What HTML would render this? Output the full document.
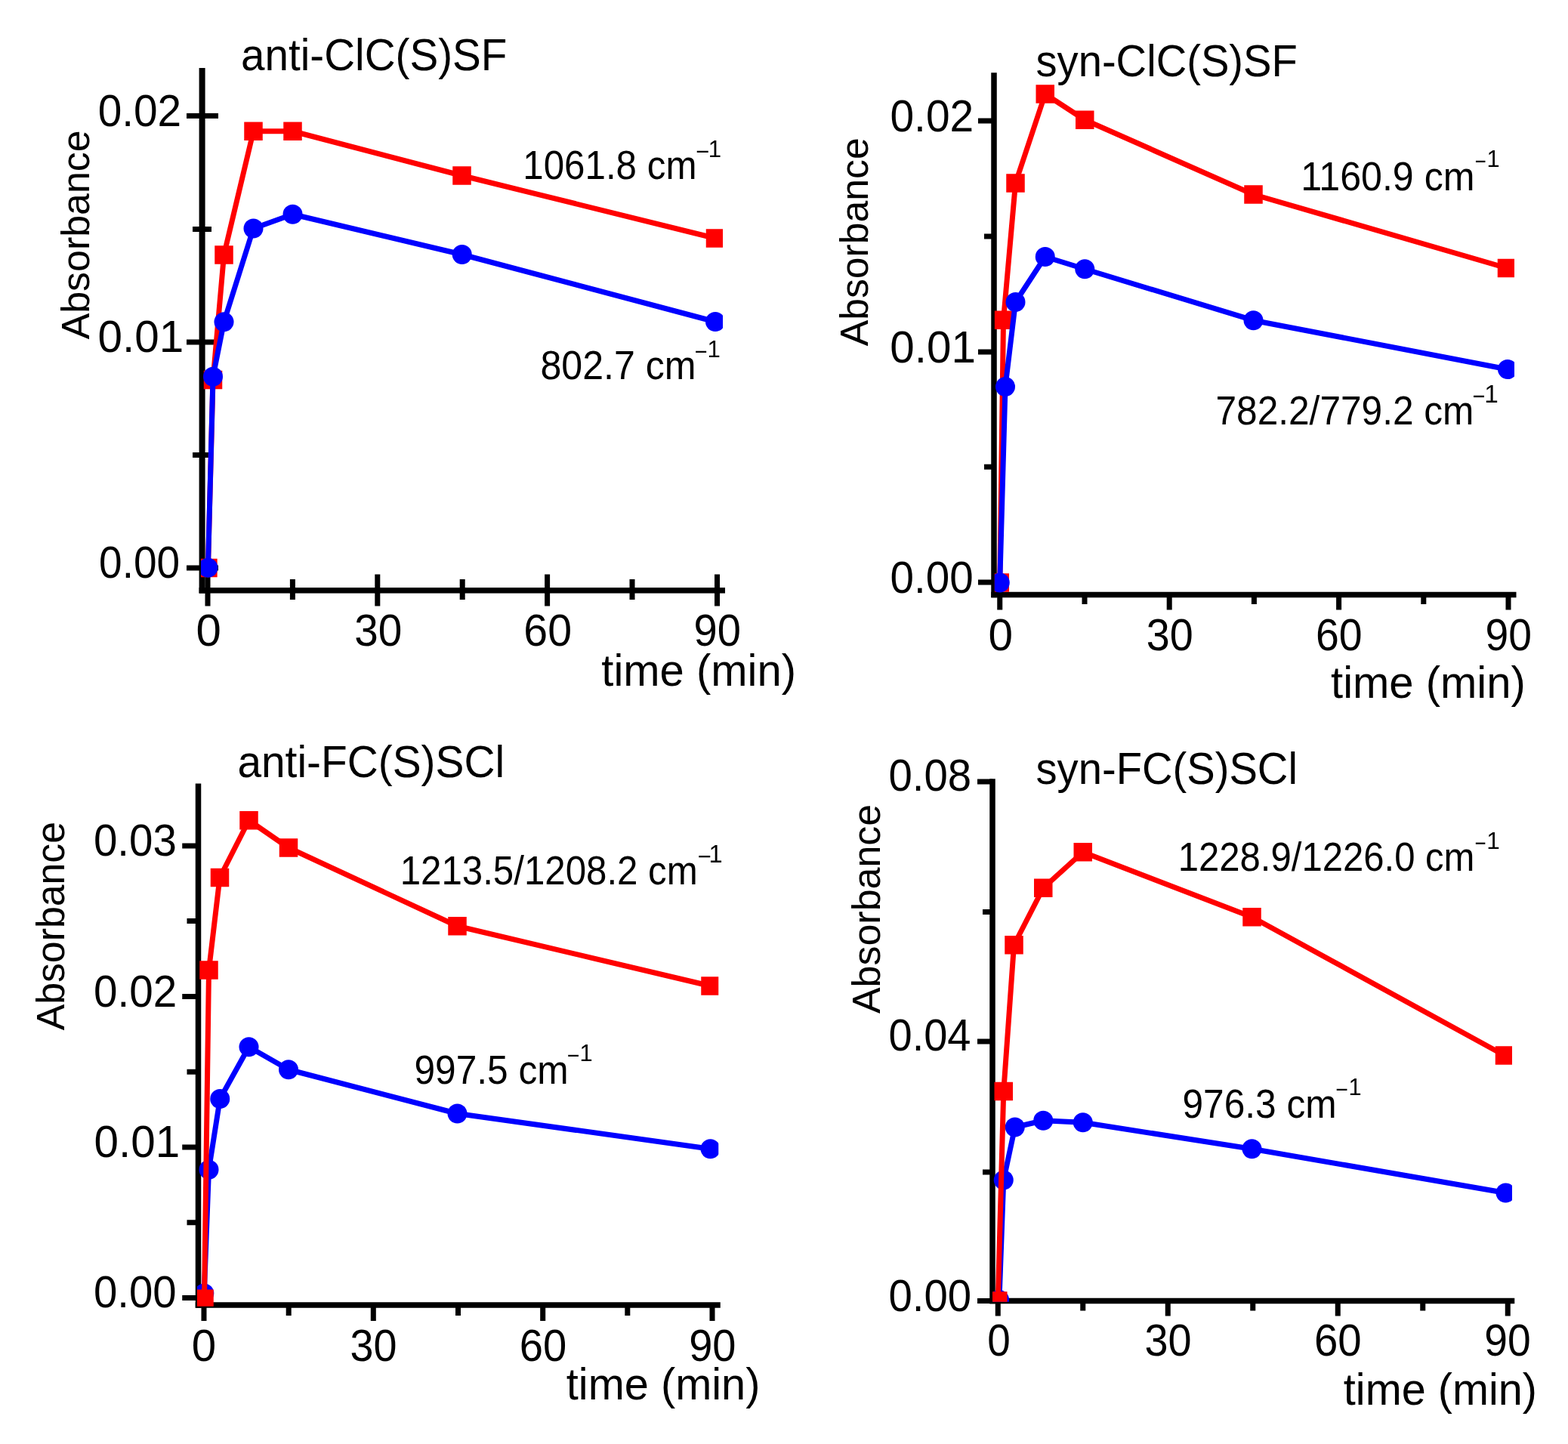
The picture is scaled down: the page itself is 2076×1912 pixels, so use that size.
<!DOCTYPE html>
<html><head><meta charset="utf-8"><title>Absorbance vs time</title>
<style>html,body{margin:0;padding:0;background:#fff;overflow:hidden;}svg{display:block;}text{font-family:"Liberation Sans", Arial, sans-serif;}</style>
</head><body>
<svg width="2076" height="1912" viewBox="0 0 2076 1912">
<rect width="2076" height="1912" fill="#fff"/>
<defs>
<clipPath id="clipA"><rect x="266" y="0" width="691" height="783.3"/></clipPath>
<clipPath id="clipB"><rect x="1316.8" y="0" width="688.2" height="789"/></clipPath>
<clipPath id="clipC"><rect x="261" y="960" width="690.25" height="769.8"/></clipPath>
<clipPath id="clipD"><rect x="1314" y="960" width="688" height="763.7"/></clipPath>
</defs>
<rect x="263.60" y="90.00" width="8.00" height="695.55" fill="#000"/>
<rect x="263.60" y="778.05" width="696.40" height="7.50" fill="#000"/>
<rect x="247.00" y="748.50" width="42.00" height="7.00" fill="#000"/>
<rect x="247.00" y="449.50" width="42.00" height="7.00" fill="#000"/>
<rect x="247.00" y="149.90" width="42.00" height="7.00" fill="#000"/>
<rect x="255.00" y="599.00" width="25.00" height="7.00" fill="#000"/>
<rect x="255.00" y="300.00" width="25.00" height="7.00" fill="#000"/>
<rect x="271.50" y="760.50" width="7.00" height="42.00" fill="#000"/>
<rect x="496.30" y="760.50" width="7.00" height="42.00" fill="#000"/>
<rect x="721.10" y="760.50" width="7.00" height="42.00" fill="#000"/>
<rect x="946.00" y="760.50" width="7.00" height="42.00" fill="#000"/>
<rect x="383.90" y="767.00" width="7.00" height="27.00" fill="#000"/>
<rect x="608.70" y="767.00" width="7.00" height="27.00" fill="#000"/>
<rect x="833.50" y="767.00" width="7.00" height="27.00" fill="#000"/>
<g clip-path="url(#clipA)">
<polyline points="275.4,752 282,503 296.5,337.5 335.5,173.75 387.5,173.75 611.5,232.5 947,315.5" fill="none" stroke="#ff0000" stroke-width="7" stroke-linejoin="round"/>
<rect x="263.15" y="739.75" width="24.5" height="24.5" fill="#ff0000"/>
<rect x="269.75" y="490.75" width="24.5" height="24.5" fill="#ff0000"/>
<rect x="284.25" y="325.25" width="24.5" height="24.5" fill="#ff0000"/>
<rect x="323.25" y="161.50" width="24.5" height="24.5" fill="#ff0000"/>
<rect x="375.25" y="161.50" width="24.5" height="24.5" fill="#ff0000"/>
<rect x="599.25" y="220.25" width="24.5" height="24.5" fill="#ff0000"/>
<rect x="934.75" y="303.25" width="24.5" height="24.5" fill="#ff0000"/>
</g>
<g clip-path="url(#clipA)">
<polyline points="275.4,751.8 282,498.75 296.5,426.25 335.5,302.5 387.5,283.75 611.75,337 947,426" fill="none" stroke="#0000ff" stroke-width="7" stroke-linejoin="round"/>
<circle cx="275.4" cy="751.8" r="13.0" fill="#0000ff"/>
<circle cx="282" cy="498.75" r="13.0" fill="#0000ff"/>
<circle cx="296.5" cy="426.25" r="13.0" fill="#0000ff"/>
<circle cx="335.5" cy="302.5" r="13.0" fill="#0000ff"/>
<circle cx="387.5" cy="283.75" r="13.0" fill="#0000ff"/>
<circle cx="611.75" cy="337" r="13.0" fill="#0000ff"/>
<circle cx="947" cy="426" r="13.0" fill="#0000ff"/>
</g>
<text transform="matrix(0.56626,0,0,0.59300,319.05,92.87)" font-size="100" fill="#000">anti-ClC(S)SF</text>
<text transform="matrix(0,-0.51909,0.52000,0,118.29,449.36)" font-size="100">Absorbance</text>
<text transform="matrix(0.56792,0,0,0.59300,129.68,167.08)" font-size="100" fill="#000">0.02</text>
<text transform="matrix(0.58412,0,0,0.59300,129.61,466.08)" font-size="100" fill="#000">0.01</text>
<text transform="matrix(0.55013,0,0,0.59300,131.10,765.16)" font-size="100" fill="#000">0.00</text>
<text transform="matrix(0.60000,0,0,0.59300,259.50,855.01)" font-size="100" fill="#000">0</text>
<text transform="matrix(0.56715,0,0,0.59300,469.23,855.01)" font-size="100" fill="#000">30</text>
<text transform="matrix(0.57268,0,0,0.59300,693.34,855.01)" font-size="100" fill="#000">60</text>
<text transform="matrix(0.56117,0,0,0.59300,918.47,855.01)" font-size="100" fill="#000">90</text>
<text transform="matrix(0.57984,0,0,0.59300,796.33,907.62)" font-size="100" fill="#000">time (min)</text>
<text transform="matrix(0.49312,0,0,0.53700,692.22,237.28)" font-size="100" fill="#000">1061.8 cm</text>
<text transform="matrix(0.30928,0,0,0.31159,920.95,211.19)" font-size="100">−</text>
<text transform="matrix(0.31159,0,0,0.31159,937.79,207.50)" font-size="100">1</text>
<text transform="matrix(0.50087,0,0,0.53700,715.45,501.90)" font-size="100" fill="#000">802.7 cm</text>
<text transform="matrix(0.28866,0,0,0.31159,919.56,475.94)" font-size="100">−</text>
<text transform="matrix(0.31159,0,0,0.31159,936.54,472.50)" font-size="100">1</text>
<rect x="1312.25" y="96.25" width="7.50" height="695.00" fill="#000"/>
<rect x="1312.25" y="783.75" width="695.25" height="7.50" fill="#000"/>
<rect x="1295.00" y="767.50" width="21.00" height="7.00" fill="#000"/>
<rect x="1295.00" y="462.50" width="21.00" height="7.00" fill="#000"/>
<rect x="1295.00" y="156.50" width="21.00" height="7.00" fill="#000"/>
<rect x="1303.00" y="614.70" width="13.00" height="7.00" fill="#000"/>
<rect x="1303.00" y="309.50" width="13.00" height="7.00" fill="#000"/>
<rect x="1320.25" y="787.50" width="7.00" height="20.00" fill="#000"/>
<rect x="1544.70" y="787.50" width="7.00" height="20.00" fill="#000"/>
<rect x="1769.10" y="787.50" width="7.00" height="20.00" fill="#000"/>
<rect x="1993.50" y="787.50" width="7.00" height="20.00" fill="#000"/>
<rect x="1432.50" y="787.50" width="7.00" height="12.50" fill="#000"/>
<rect x="1656.90" y="787.50" width="7.00" height="12.50" fill="#000"/>
<rect x="1881.30" y="787.50" width="7.00" height="12.50" fill="#000"/>
<g clip-path="url(#clipB)">
<polyline points="1323.75,771.5 1328.5,423.75 1344.5,242.5 1383.75,124.5 1436.25,158.75 1659.5,257.5 1995,355" fill="none" stroke="#ff0000" stroke-width="7" stroke-linejoin="round"/>
<rect x="1311.50" y="759.25" width="24.5" height="24.5" fill="#ff0000"/>
<rect x="1316.25" y="411.50" width="24.5" height="24.5" fill="#ff0000"/>
<rect x="1332.25" y="230.25" width="24.5" height="24.5" fill="#ff0000"/>
<rect x="1371.50" y="112.25" width="24.5" height="24.5" fill="#ff0000"/>
<rect x="1424.00" y="146.50" width="24.5" height="24.5" fill="#ff0000"/>
<rect x="1647.25" y="245.25" width="24.5" height="24.5" fill="#ff0000"/>
<rect x="1982.75" y="342.75" width="24.5" height="24.5" fill="#ff0000"/>
</g>
<g clip-path="url(#clipB)">
<polyline points="1323.75,771.5 1331,512 1344.5,400 1383.75,340 1436.25,356.25 1659.5,424.2 1996,489" fill="none" stroke="#0000ff" stroke-width="7" stroke-linejoin="round"/>
<circle cx="1323.75" cy="771.5" r="13.0" fill="#0000ff"/>
<circle cx="1331" cy="512" r="13.0" fill="#0000ff"/>
<circle cx="1344.5" cy="400" r="13.0" fill="#0000ff"/>
<circle cx="1383.75" cy="340" r="13.0" fill="#0000ff"/>
<circle cx="1436.25" cy="356.25" r="13.0" fill="#0000ff"/>
<circle cx="1659.5" cy="424.2" r="13.0" fill="#0000ff"/>
<circle cx="1996" cy="489" r="13.0" fill="#0000ff"/>
</g>
<text transform="matrix(0.56169,0,0,0.59300,1371.51,100.77)" font-size="100" fill="#000">syn-ClC(S)SF</text>
<text transform="matrix(0,-0.51720,0.52000,0,1149.22,458.31)" font-size="100">Absorbance</text>
<text transform="matrix(0.56927,0,0,0.59300,1178.42,173.58)" font-size="100" fill="#000">0.02</text>
<text transform="matrix(0.58412,0,0,0.59300,1178.36,479.83)" font-size="100" fill="#000">0.01</text>
<text transform="matrix(0.56622,0,0,0.59300,1178.44,784.83)" font-size="100" fill="#000">0.00</text>
<text transform="matrix(0.58526,0,0,0.59300,1308.56,860.96)" font-size="100" fill="#000">0</text>
<text transform="matrix(0.55749,0,0,0.59300,1517.77,860.96)" font-size="100" fill="#000">30</text>
<text transform="matrix(0.55415,0,0,0.59300,1741.93,860.96)" font-size="100" fill="#000">60</text>
<text transform="matrix(0.55243,0,0,0.59300,1966.41,860.96)" font-size="100" fill="#000">90</text>
<text transform="matrix(0.58007,0,0,0.59300,1762.03,924.37)" font-size="100" fill="#000">time (min)</text>
<text transform="matrix(0.50147,0,0,0.53700,1722.14,251.65)" font-size="100" fill="#000">1160.9 cm</text>
<text transform="matrix(0.25773,0,0,0.30797,1952.46,224.07)" font-size="100">−</text>
<text transform="matrix(0.30797,0,0,0.30797,1968.40,221.25)" font-size="100">1</text>
<text transform="matrix(0.49609,0,0,0.53700,1609.47,562.07)" font-size="100" fill="#000">782.2/779.2 cm</text>
<text transform="matrix(0.28866,0,0,0.33333,1949.56,536.17)" font-size="100">−</text>
<text transform="matrix(0.33333,0,0,0.33333,1965.15,533.00)" font-size="100">1</text>
<rect x="258.75" y="1037.50" width="7.50" height="694.25" fill="#000"/>
<rect x="258.75" y="1724.25" width="695.00" height="7.50" fill="#000"/>
<rect x="241.25" y="1715.00" width="21.25" height="7.00" fill="#000"/>
<rect x="241.25" y="1515.50" width="21.25" height="7.00" fill="#000"/>
<rect x="241.25" y="1316.00" width="21.25" height="7.00" fill="#000"/>
<rect x="241.25" y="1116.50" width="21.25" height="7.00" fill="#000"/>
<rect x="247.50" y="1615.25" width="15.00" height="7.00" fill="#000"/>
<rect x="247.50" y="1415.75" width="15.00" height="7.00" fill="#000"/>
<rect x="247.50" y="1216.00" width="15.00" height="7.00" fill="#000"/>
<rect x="266.50" y="1728.00" width="7.00" height="21.00" fill="#000"/>
<rect x="490.80" y="1728.00" width="7.00" height="21.00" fill="#000"/>
<rect x="715.20" y="1728.00" width="7.00" height="21.00" fill="#000"/>
<rect x="939.50" y="1728.00" width="7.00" height="21.00" fill="#000"/>
<rect x="378.70" y="1728.00" width="7.00" height="14.00" fill="#000"/>
<rect x="603.00" y="1728.00" width="7.00" height="14.00" fill="#000"/>
<rect x="827.30" y="1728.00" width="7.00" height="14.00" fill="#000"/>
<g clip-path="url(#clipC)">
<polyline points="270.3,1712.5 276.5,1548.75 291.25,1455 329.5,1386.25 382,1416.25 605.5,1474.5 940.5,1521.25" fill="none" stroke="#0000ff" stroke-width="7" stroke-linejoin="round"/>
<circle cx="270.3" cy="1712.5" r="13.0" fill="#0000ff"/>
<circle cx="276.5" cy="1548.75" r="13.0" fill="#0000ff"/>
<circle cx="291.25" cy="1455" r="13.0" fill="#0000ff"/>
<circle cx="329.5" cy="1386.25" r="13.0" fill="#0000ff"/>
<circle cx="382" cy="1416.25" r="13.0" fill="#0000ff"/>
<circle cx="605.5" cy="1474.5" r="13.0" fill="#0000ff"/>
<circle cx="940.5" cy="1521.25" r="13.0" fill="#0000ff"/>
</g>
<g clip-path="url(#clipC)">
<polyline points="270.5,1719.7 276.5,1284.5 291,1162 329.5,1086.25 382,1122.5 605.5,1226.25 940.5,1305.5" fill="none" stroke="#ff0000" stroke-width="7" stroke-linejoin="round"/>
<rect x="258.25" y="1707.45" width="24.5" height="24.5" fill="#ff0000"/>
<rect x="264.25" y="1272.25" width="24.5" height="24.5" fill="#ff0000"/>
<rect x="278.75" y="1149.75" width="24.5" height="24.5" fill="#ff0000"/>
<rect x="317.25" y="1074.00" width="24.5" height="24.5" fill="#ff0000"/>
<rect x="369.75" y="1110.25" width="24.5" height="24.5" fill="#ff0000"/>
<rect x="593.25" y="1214.00" width="24.5" height="24.5" fill="#ff0000"/>
<rect x="928.25" y="1293.25" width="24.5" height="24.5" fill="#ff0000"/>
</g>
<text transform="matrix(0.56849,0,0,0.59300,314.39,1028.77)" font-size="100" fill="#000">anti-FC(S)SCl</text>
<text transform="matrix(0,-0.51796,0.52000,0,85.44,1364.36)" font-size="100">Absorbance</text>
<text transform="matrix(0.56505,0,0,0.59300,123.94,1132.96)" font-size="100" fill="#000">0.03</text>
<text transform="matrix(0.56658,0,0,0.59300,123.93,1332.96)" font-size="100" fill="#000">0.02</text>
<text transform="matrix(0.58412,0,0,0.59300,124.61,1531.71)" font-size="100" fill="#000">0.01</text>
<text transform="matrix(0.56354,0,0,0.59300,123.95,1731.08)" font-size="100" fill="#000">0.00</text>
<text transform="matrix(0.58316,0,0,0.59300,253.67,1802.11)" font-size="100" fill="#000">0</text>
<text transform="matrix(0.55749,0,0,0.59300,463.57,1802.11)" font-size="100" fill="#000">30</text>
<text transform="matrix(0.56195,0,0,0.59300,687.69,1802.11)" font-size="100" fill="#000">60</text>
<text transform="matrix(0.56019,0,0,0.59300,912.18,1802.11)" font-size="100" fill="#000">90</text>
<text transform="matrix(0.57732,0,0,0.59300,749.83,1853.12)" font-size="100" fill="#000">time (min)</text>
<text transform="matrix(0.49222,0,0,0.53700,529.72,1171.45)" font-size="100" fill="#000">1213.5/1208.2 cm</text>
<text transform="matrix(0.30928,0,0,0.32609,923.45,1144.67)" font-size="100">−</text>
<text transform="matrix(0.32609,0,0,0.32609,938.61,1142.00)" font-size="100">1</text>
<text transform="matrix(0.49650,0,0,0.53700,548.47,1434.78)" font-size="100" fill="#000">997.5 cm</text>
<text transform="matrix(0.28351,0,0,0.30797,751.08,1407.82)" font-size="100">−</text>
<text transform="matrix(0.30797,0,0,0.30797,767.40,1405.00)" font-size="100">1</text>
<rect x="1310.25" y="1031.25" width="7.50" height="695.00" fill="#000"/>
<rect x="1310.25" y="1718.75" width="695.00" height="7.50" fill="#000"/>
<rect x="1294.00" y="1719.00" width="20.00" height="7.00" fill="#000"/>
<rect x="1294.00" y="1375.50" width="20.00" height="7.00" fill="#000"/>
<rect x="1294.00" y="1031.50" width="20.00" height="7.00" fill="#000"/>
<rect x="1301.00" y="1548.50" width="13.00" height="7.00" fill="#000"/>
<rect x="1301.00" y="1204.00" width="13.00" height="7.00" fill="#000"/>
<rect x="1317.75" y="1722.50" width="7.00" height="20.00" fill="#000"/>
<rect x="1542.75" y="1722.50" width="7.00" height="20.00" fill="#000"/>
<rect x="1767.75" y="1722.50" width="7.00" height="20.00" fill="#000"/>
<rect x="1992.75" y="1722.50" width="7.00" height="20.00" fill="#000"/>
<rect x="1430.25" y="1722.50" width="7.00" height="13.00" fill="#000"/>
<rect x="1655.25" y="1722.50" width="7.00" height="13.00" fill="#000"/>
<rect x="1880.25" y="1722.50" width="7.00" height="13.00" fill="#000"/>
<g clip-path="url(#clipD)">
<polyline points="1323,1721 1328.75,1562.5 1343.75,1492.5 1381.25,1483.75 1433.75,1486.25 1657.5,1521.25 1993.5,1579.5" fill="none" stroke="#0000ff" stroke-width="7" stroke-linejoin="round"/>
<circle cx="1323" cy="1721" r="13.0" fill="#0000ff"/>
<circle cx="1328.75" cy="1562.5" r="13.0" fill="#0000ff"/>
<circle cx="1343.75" cy="1492.5" r="13.0" fill="#0000ff"/>
<circle cx="1381.25" cy="1483.75" r="13.0" fill="#0000ff"/>
<circle cx="1433.75" cy="1486.25" r="13.0" fill="#0000ff"/>
<circle cx="1657.5" cy="1521.25" r="13.0" fill="#0000ff"/>
<circle cx="1993.5" cy="1579.5" r="13.0" fill="#0000ff"/>
</g>
<g clip-path="url(#clipD)">
<polyline points="1321.25,1722.5 1328.75,1445 1342.5,1251.25 1381.25,1175.75 1433.75,1128.25 1657.5,1214.25 1992,1397.5" fill="none" stroke="#ff0000" stroke-width="7" stroke-linejoin="round"/>
<rect x="1309.00" y="1710.25" width="24.5" height="24.5" fill="#ff0000"/>
<rect x="1316.50" y="1432.75" width="24.5" height="24.5" fill="#ff0000"/>
<rect x="1330.25" y="1239.00" width="24.5" height="24.5" fill="#ff0000"/>
<rect x="1369.00" y="1163.50" width="24.5" height="24.5" fill="#ff0000"/>
<rect x="1421.50" y="1116.00" width="24.5" height="24.5" fill="#ff0000"/>
<rect x="1645.25" y="1202.00" width="24.5" height="24.5" fill="#ff0000"/>
<rect x="1979.75" y="1385.25" width="24.5" height="24.5" fill="#ff0000"/>
</g>
<text transform="matrix(0.56194,0,0,0.59300,1371.51,1038.39)" font-size="100" fill="#000">syn-FC(S)SCl</text>
<text transform="matrix(0,-0.51957,0.52000,0,1164.84,1342.06)" font-size="100">Absorbance</text>
<text transform="matrix(0.56354,0,0,0.59300,1176.45,1047.33)" font-size="100" fill="#000">0.08</text>
<text transform="matrix(0.56053,0,0,0.59300,1176.46,1390.83)" font-size="100" fill="#000">0.04</text>
<text transform="matrix(0.56354,0,0,0.59300,1176.45,1736.08)" font-size="100" fill="#000">0.00</text>
<text transform="matrix(0.54947,0,0,0.59300,1307.25,1795.46)" font-size="100" fill="#000">0</text>
<text transform="matrix(0.55894,0,0,0.59300,1515.46,1795.46)" font-size="100" fill="#000">30</text>
<text transform="matrix(0.56439,0,0,0.59300,1739.88,1795.46)" font-size="100" fill="#000">60</text>
<text transform="matrix(0.55194,0,0,0.59300,1965.22,1795.46)" font-size="100" fill="#000">90</text>
<text transform="matrix(0.57640,0,0,0.59300,1778.84,1860.27)" font-size="100" fill="#000">time (min)</text>
<text transform="matrix(0.49063,0,0,0.53700,1559.74,1153.20)" font-size="100" fill="#000">1228.9/1226.0 cm</text>
<text transform="matrix(0.25773,0,0,0.31522,1952.46,1126.81)" font-size="100">−</text>
<text transform="matrix(0.31522,0,0,0.31522,1968.19,1123.75)" font-size="100">1</text>
<text transform="matrix(0.49650,0,0,0.53700,1565.47,1479.78)" font-size="100" fill="#000">976.3 cm</text>
<text transform="matrix(0.28351,0,0,0.30797,1768.58,1452.82)" font-size="100">−</text>
<text transform="matrix(0.30797,0,0,0.30797,1785.40,1450.00)" font-size="100">1</text>
</svg>
</body></html>
